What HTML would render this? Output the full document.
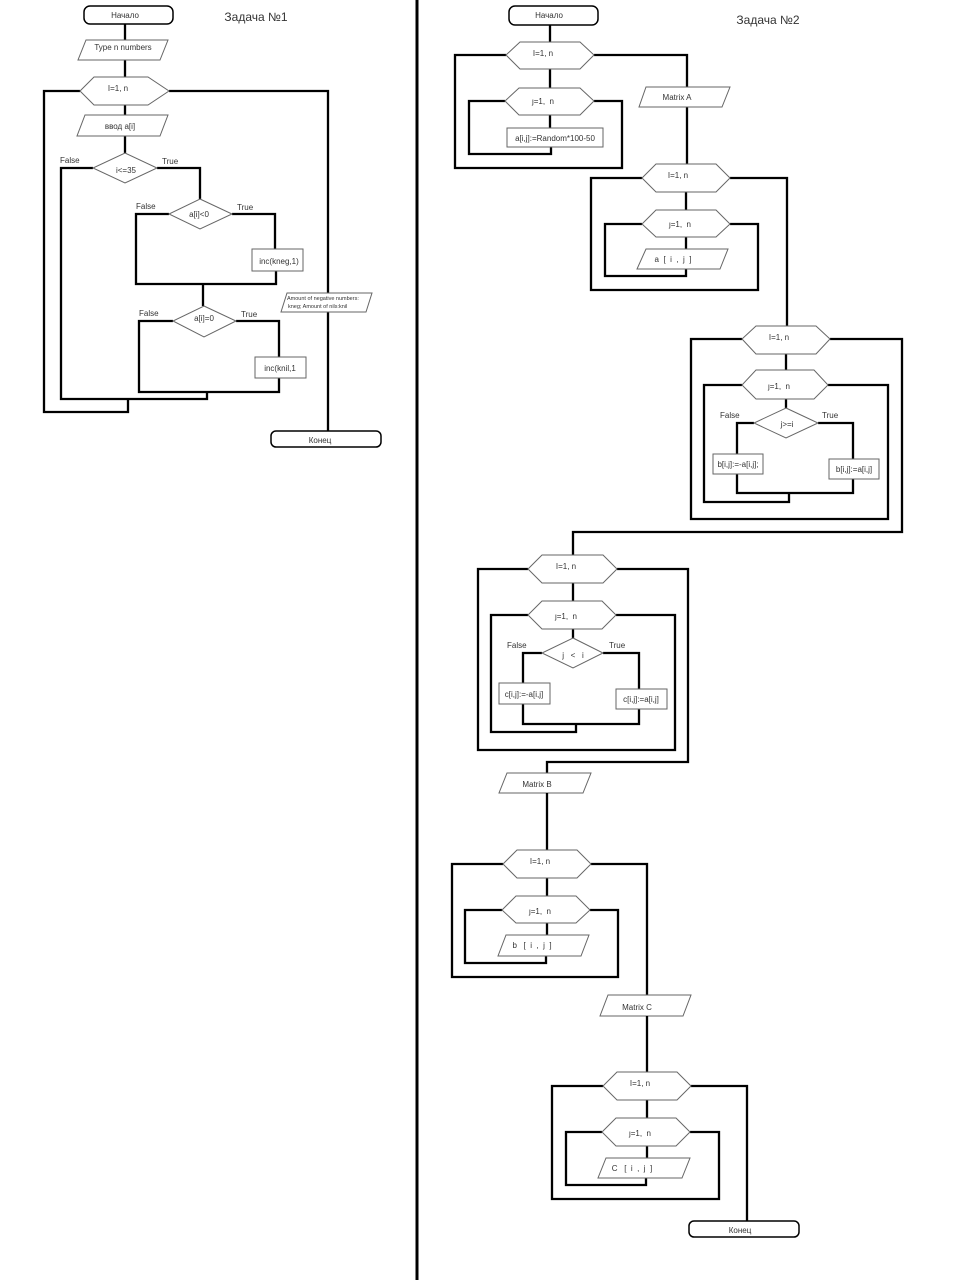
<!DOCTYPE html>
<html><head><meta charset="utf-8"><style>
html,body{margin:0;padding:0;background:#fff;}
svg{display:block;}
text{font-family:"Liberation Sans","Noto Sans CJK SC",sans-serif;font-size:8px;fill:#333;white-space:pre;}
.c{fill:none;stroke:#000;stroke-width:2.3;}
.s{fill:#fff;stroke:#666;stroke-width:1;}
.t{fill:#fff;stroke:#000;stroke-width:1.5;}
</style></head><body>
<svg width="974" height="1280" viewBox="0 0 974 1280" xmlns="http://www.w3.org/2000/svg" xml:space="preserve">
<line x1="417" y1="0" x2="417" y2="1280" stroke="#000" stroke-width="3"/>

<!-- ===== LEFT ===== -->
<polyline class="c" points="125,24 125,78"/>
<polyline class="c" points="125,105 125,153"/>
<polyline class="c" points="80,91 44,91 44,412 128,412 128,399"/>
<polyline class="c" points="169,91 328,91 328,432"/>
<polyline class="c" points="93,168 61,168 61,399 207,399 207,392"/>
<polyline class="c" points="157,168 200,168 200,199"/>
<polyline class="c" points="169,214 136,214 136,284 276,284 276,271"/>
<polyline class="c" points="232,214 275,214 275,249"/>
<polyline class="c" points="203,284 203,306"/>
<polyline class="c" points="173,321 139,321 139,392 279,392 279,378"/>
<polyline class="c" points="236,321 279,321 279,357"/>

<rect class="t" x="84" y="6" width="89" height="18" rx="6"/>
<text x="125" y="18" text-anchor="middle">Начало</text>
<text x="256" y="21" text-anchor="middle" style="font-size:12px">Задача №1</text>
<polygon class="s" points="86,40 168,40 160,60 78,60"/>
<text x="123" y="50" text-anchor="middle">Type n numbers</text>
<polygon class="s" points="80,91 94,77 148,77 169,91 148,105 94,105"/>
<text x="118" y="91" text-anchor="middle">I=1, n</text>
<polygon class="s" points="85,115 168,115 160,136 77,136"/>
<text x="120" y="129" text-anchor="middle">ввод a[i]</text>
<polygon class="s" points="125,153 157,168 125,183 93,168"/>
<text x="126" y="173" text-anchor="middle">i&lt;=35</text>
<text x="60" y="163">False</text><text x="162" y="164">True</text>
<polygon class="s" points="200,199 232,214 200,229 169,214"/>
<text x="199" y="217" text-anchor="middle">a[i]&lt;0</text>
<text x="136" y="209">False</text><text x="237" y="210">True</text>
<rect class="s" x="252" y="249" width="51" height="22"/>
<text x="279" y="264" text-anchor="middle">inc(kneg,1)</text>
<polygon class="s" points="204,306 236,321 204,337 173,321"/>
<text x="204" y="321" text-anchor="middle">a[i]=0</text>
<text x="139" y="316">False</text><text x="241" y="317">True</text>
<rect class="s" x="255" y="357" width="51" height="21"/>
<text x="280" y="371" text-anchor="middle">inc(knil,1</text>
<polygon class="s" points="287,293 372,293 366,312 281,312"/>
<text x="287" y="300" style="font-size:5.5px">Amount of negative numbers:</text>
<text x="288" y="308" style="font-size:5.5px">kneg; Amount of nils:knil</text>
<rect class="t" x="271" y="431" width="110" height="16" rx="5"/>
<text x="320" y="443" text-anchor="middle">Конец</text>

<!-- ===== RIGHT ===== -->
<polyline class="c" points="550,24 550,88"/>
<polyline class="c" points="550,115 550,128"/>
<polyline class="c" points="506,55 455,55 455,168 622,168 622,101 594,101"/>
<polyline class="c" points="505,101 469,101 469,154 551,154 551,147"/>
<polyline class="c" points="594,55 687,55 687,164"/>
<rect class="t" x="509" y="6" width="89" height="19" rx="6"/>
<text x="549" y="18" text-anchor="middle">Начало</text>
<text x="768" y="24" text-anchor="middle" style="font-size:12px">Задача №2</text>
<polygon class="s" points="506,55 520,42 580,42 594,55 580,69 520,69"/>
<text x="543" y="56" text-anchor="middle">I=1, n</text>
<polygon class="s" points="505,101 519,88 580,88 594,101 580,115 519,115"/>
<text x="543" y="104" text-anchor="middle">ȷ=1,  n</text>
<rect class="s" x="507" y="128" width="96" height="19"/>
<text x="555" y="141" text-anchor="middle">a[i,j]:=Random*100-50</text>
<polygon class="s" points="646,87 730,87 722,107 639,107"/>
<text x="677" y="100" text-anchor="middle">Matrix A</text>

<polyline class="c" points="686,192 686,210"/>
<polyline class="c" points="686,237 686,249"/>
<polyline class="c" points="642,178 591,178 591,290 758,290 758,224 730,224"/>
<polyline class="c" points="642,224 605,224 605,276 686,276 686,269"/>
<polyline class="c" points="730,178 787,178 787,326"/>
<polygon class="s" points="642,178 656,164 716,164 730,178 716,192 656,192"/>
<text x="678" y="178" text-anchor="middle">I=1, n</text>
<polygon class="s" points="642,224 656,210 716,210 730,224 716,237 656,237"/>
<text x="680" y="227" text-anchor="middle">ȷ=1,  n</text>
<polygon class="s" points="646,249 728,249 720,269 637,269"/>
<text x="673" y="262" text-anchor="middle">a  [  i  ,  j  ]</text>

<polyline class="c" points="786,354 786,370"/>
<polyline class="c" points="786,399 786,408"/>
<polyline class="c" points="742,339 691,339 691,519 888,519 888,385 828,385"/>
<polyline class="c" points="742,385 704,385 704,502 789,502 789,493"/>
<polyline class="c" points="830,339 902,339 902,532 573,532 573,555"/>
<polyline class="c" points="754,423 737,423 737,493 853,493 853,423 818,423"/>
<polygon class="s" points="742,339 756,326 816,326 830,339 816,354 756,354"/>
<text x="779" y="340" text-anchor="middle">I=1, n</text>
<polygon class="s" points="742,385 756,370 814,370 828,385 814,399 756,399"/>
<text x="779" y="389" text-anchor="middle">ȷ=1,  n</text>
<polygon class="s" points="786,408 818,423 786,438 754,423"/>
<text x="787" y="427" text-anchor="middle">j&gt;=i</text>
<text x="720" y="418">False</text><text x="822" y="418">True</text>
<rect class="s" x="713" y="454" width="50" height="20"/>
<text x="738" y="467" text-anchor="middle">b[i,j]:=-a[i,j];</text>
<rect class="s" x="829" y="459" width="50" height="20"/>
<text x="854" y="472" text-anchor="middle">b[i,j]:=a[i,j]</text>

<polyline class="c" points="573,583 573,601"/>
<polyline class="c" points="573,629 573,638"/>
<polyline class="c" points="528,569 478,569 478,750 675,750 675,615 616,615"/>
<polyline class="c" points="528,615 491,615 491,732 576,732 576,724"/>
<polyline class="c" points="617,569 688,569 688,762 547,762 547,773"/>
<polyline class="c" points="542,653 523,653 523,724 639,724 639,653 603,653"/>
<polygon class="s" points="528,569 542,555 603,555 617,569 603,583 542,583"/>
<text x="566" y="569" text-anchor="middle">I=1, n</text>
<polygon class="s" points="528,615 542,601 602,601 616,615 602,629 542,629"/>
<text x="566" y="619" text-anchor="middle">ȷ=1,  n</text>
<polygon class="s" points="573,638 603,653 573,668 542,653"/>
<text x="573" y="658" text-anchor="middle">j   &lt;   i</text>
<text x="507" y="648">False</text><text x="609" y="648">True</text>
<rect class="s" x="499" y="683" width="51" height="21"/>
<text x="524" y="697" text-anchor="middle">c[i,j]:=-a[i,j]</text>
<rect class="s" x="616" y="689" width="51" height="20"/>
<text x="641" y="702" text-anchor="middle">c[i,j]:=a[i,j]</text>

<polygon class="s" points="507,773 591,773 583,793 499,793"/>
<text x="537" y="787" text-anchor="middle">Matrix B</text>

<polyline class="c" points="547,793 547,850"/>
<polyline class="c" points="547,878 547,896"/>
<polyline class="c" points="547,923 547,935"/>
<polyline class="c" points="503,864 452,864 452,977 618,977 618,910 590,910"/>
<polyline class="c" points="502,910 465,910 465,963 546,963 546,956"/>
<polyline class="c" points="591,864 647,864 647,995"/>
<polygon class="s" points="503,864 517,850 577,850 591,864 577,878 517,878"/>
<text x="540" y="864" text-anchor="middle">I=1, n</text>
<polygon class="s" points="502,910 516,896 576,896 590,910 576,923 516,923"/>
<text x="540" y="914" text-anchor="middle">ȷ=1,  n</text>
<polygon class="s" points="506,935 589,935 581,956 498,956"/>
<text x="532" y="948" text-anchor="middle">b   [  i  ,  j  ]</text>

<polygon class="s" points="608,995 691,995 683,1016 600,1016"/>
<text x="637" y="1010" text-anchor="middle">Matrix C</text>

<polyline class="c" points="647,1016 647,1072"/>
<polyline class="c" points="647,1100 647,1118"/>
<polyline class="c" points="647,1146 647,1158"/>
<polyline class="c" points="603,1086 552,1086 552,1199 719,1199 719,1132 690,1132"/>
<polyline class="c" points="602,1132 566,1132 566,1185 646,1185 646,1178"/>
<polyline class="c" points="691,1086 747,1086 747,1221"/>
<polygon class="s" points="603,1086 617,1072 677,1072 691,1086 677,1100 617,1100"/>
<text x="640" y="1086" text-anchor="middle">I=1, n</text>
<polygon class="s" points="602,1132 616,1118 676,1118 690,1132 676,1146 616,1146"/>
<text x="640" y="1136" text-anchor="middle">ȷ=1,  n</text>
<polygon class="s" points="606,1158 690,1158 682,1178 598,1178"/>
<text x="632" y="1171" text-anchor="middle">C   [  i  ,  j  ]</text>
<rect class="t" x="689" y="1221" width="110" height="16" rx="5"/>
<text x="740" y="1233" text-anchor="middle">Конец</text>
</svg>
</body></html>
